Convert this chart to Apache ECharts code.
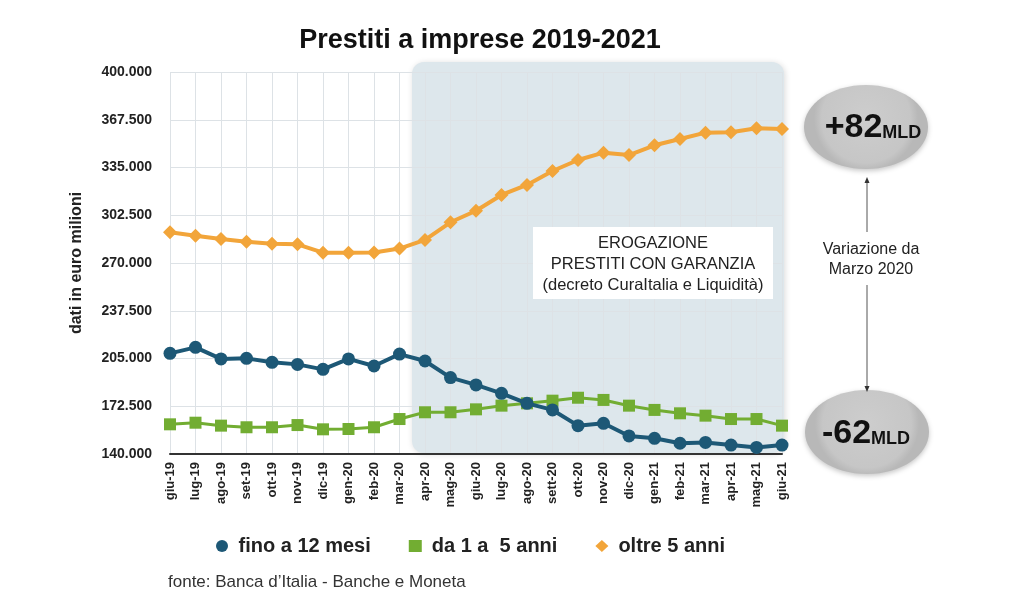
<!DOCTYPE html>
<html>
<head>
<meta charset="utf-8">
<script src="https://cdn.jsdelivr.net/npm/echarts@6/dist/echarts.min.js"></script>
<style>
html,body{margin:0;padding:0;background:#fff;}
#c{width:1024px;height:606px;}
</style>
</head>
<body>
<div id="c"></div>
<script>
const categories = ['giu-19','lug-19','ago-19','set-19','ott-19','nov-19','dic-19','gen-20','feb-20','mar-20','apr-20','mag-20','giu-20','lug-20','ago-20','sett-20','ott-20','nov-20','dic-20','gen-21','feb-21','mar-21','apr-21','mag-21','giu-21'];
const fino12mesi = [208500,212600,204700,205100,202400,201000,197600,204700,199900,208000,203300,192000,187000,181300,174500,170000,159300,160900,152300,150700,147300,147900,146100,144500,146100];
const da1a5anni = [160200,161300,159300,158200,158200,159700,156800,157000,158200,163800,168400,168400,170400,172900,174500,176300,178300,176800,172900,170000,167700,166100,163800,163800,159300];
const oltre5anni = [290900,288600,286300,284500,283100,282700,277000,277000,277200,279800,285700,297700,305600,316300,323100,332600,340100,345100,343500,350100,354400,358700,359000,361700,361200];
const seriesNames = ['fino a 12 mesi','da 1 a  5 anni','oltre 5 anni'];
const yMin = 140000, yMax = 400000, yStep = 32500;

const FONT = '"Liberation Sans", Arial, Helvetica, sans-serif';
const BLUE = '#1d5876', GREEN = '#72ad32', ORANGE = '#f2a53a';

function fmt(v){
  return String(Math.round(v)).replace(/\B(?=(\d{3})+(?!\d))/g, '.');
}

const ellipseFill = {type: 'radial', x: 0.5, y: 0.4, r: 0.62,
  colorStops: [{offset: 0, color: '#cdcdcd'}, {offset: 0.85, color: '#c6c6c6'}, {offset: 1, color: '#b8b8b8'}]};

const chart = echarts.init(document.getElementById('c'));
chart.setOption({
  animation: false,
  backgroundColor: '#fff',
  textStyle: {fontFamily: FONT},
  title: {
    text: 'Prestiti a imprese 2019-2021',
    left: 475, top: 22, textAlign: 'center',
    textStyle: {fontFamily: FONT, fontSize: 27, fontWeight: 'bold', color: '#111'}
  },
  grid: {left: 170, right: 242, top: 72, bottom: 152},
  legend: {
    data: [
      {name: seriesNames[0], icon: 'circle'},
      {name: seriesNames[1], icon: 'rect'},
      {name: seriesNames[2], icon: 'diamond'}
    ],
    left: 211, top: 531, itemWidth: 13, itemHeight: 12, itemGap: 38,
    textStyle: {fontFamily: FONT, fontSize: 20, fontWeight: 'bold', color: '#222', padding: [0,0,0,5]}
  },
  xAxis: {
    type: 'category', data: categories, boundaryGap: false,
    axisLine: {lineStyle: {color: '#333', width: 2}},
    axisTick: {show: false},
    axisLabel: {rotate: 90, fontFamily: FONT, fontSize: 13, fontWeight: 'bold', color: '#222', margin: 8, interval: 0},
    splitLine: {show: true, lineStyle: {color: '#dde2e6', width: 1}}
  },
  yAxis: {
    type: 'value', min: yMin, max: yMax, interval: yStep,
    name: 'dati in euro milioni', nameLocation: 'middle', nameGap: 85, nameRotate: 90,
    nameTextStyle: {fontFamily: FONT, fontSize: 16, fontWeight: 'bold', color: '#222'},
    axisLine: {show: false}, axisTick: {show: false},
    axisLabel: {formatter: fmt, fontFamily: FONT, fontSize: 14, fontWeight: 'bold', color: '#222', margin: 18},
    splitLine: {lineStyle: {color: '#dde2e6', width: 1}}
  },
  series: [
    {name: seriesNames[0], type: 'line', data: fino12mesi, symbol: 'circle', symbolSize: 13,
     lineStyle: {color: BLUE, width: 4}, itemStyle: {color: BLUE}, z: 4},
    {name: seriesNames[1], type: 'line', data: da1a5anni, symbol: 'rect', symbolSize: 12,
     lineStyle: {color: GREEN, width: 3}, itemStyle: {color: GREEN}, z: 3},
    {name: seriesNames[2], type: 'line', data: oltre5anni, symbol: 'diamond', symbolSize: 14,
     lineStyle: {color: ORANGE, width: 4}, itemStyle: {color: ORANGE}, z: 3}
  ],
  graphic: [
    {type: 'rect', z: -1, shape: {x: 412, y: 62, width: 372, height: 391, r: 12},
     style: {fill: '#dde7ec', shadowBlur: 6, shadowColor: 'rgba(0,0,0,0.15)', shadowOffsetX: 1, shadowOffsetY: 1}},
    {type: 'rect', z: 10, shape: {x: 533, y: 227, width: 240, height: 72},
     style: {fill: '#ffffff'}},
    {type: 'text', z: 11, x: 653, y: 233,
     style: {text: 'EROGAZIONE\nPRESTITI CON GARANZIA\n(decreto CuraItalia e Liquidità)', align: 'center',
             font: '16.5px ' + FONT, fill: '#222', lineHeight: 21}},
    {type: 'ellipse', z: 10, shape: {cx: 866, cy: 127, rx: 62, ry: 42},
     style: {fill: ellipseFill, shadowBlur: 5, shadowColor: 'rgba(0,0,0,0.22)', shadowOffsetY: 2}},
    {type: 'text', z: 11, x: 873, y: 128,
     style: {text: '{b|+82}{s|MLD}', align: 'center', verticalAlign: 'middle',
             rich: {b: {font: 'bold 34px ' + FONT, fill: '#111'}, s: {font: 'bold 18px ' + FONT, fill: '#111', padding: [10,0,0,0]}}}},
    {type: 'ellipse', z: 10, shape: {cx: 867, cy: 432, rx: 62, ry: 42},
     style: {fill: ellipseFill, shadowBlur: 5, shadowColor: 'rgba(0,0,0,0.22)', shadowOffsetY: 2}},
    {type: 'text', z: 11, x: 866, y: 434,
     style: {text: '{b|-62}{s|MLD}', align: 'center', verticalAlign: 'middle',
             rich: {b: {font: 'bold 34px ' + FONT, fill: '#111'}, s: {font: 'bold 18px ' + FONT, fill: '#111', padding: [10,0,0,0]}}}},
    {type: 'line', z: 10, shape: {x1: 867, y1: 180, x2: 867, y2: 232}, style: {stroke: '#555', lineWidth: 1}},
    {type: 'polygon', z: 10, shape: {points: [[864.5,183],[869.5,183],[867,177]]}, style: {fill: '#333'}},
    {type: 'line', z: 10, shape: {x1: 867, y1: 285, x2: 867, y2: 389}, style: {stroke: '#555', lineWidth: 1}},
    {type: 'polygon', z: 10, shape: {points: [[864.5,386],[869.5,386],[867,392]]}, style: {fill: '#333'}},
    {type: 'text', z: 11, x: 871, y: 240,
     style: {text: 'Variazione da\nMarzo 2020', align: 'center', font: '16px ' + FONT, fill: '#222', lineHeight: 20}},
    {type: 'text', z: 11, x: 168, y: 574,
     style: {text: 'fonte: Banca d\u2019Italia - Banche e Moneta', font: '17px ' + FONT, fill: '#333'}}
  ]
});
</script>
</body>
</html>
